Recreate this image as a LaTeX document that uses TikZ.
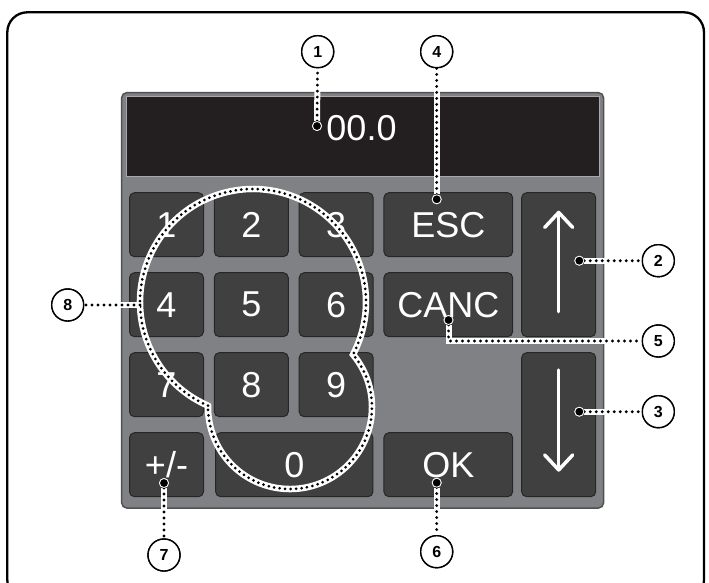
\documentclass[tikz,border=0pt]{standalone}
\usepackage{fontspec}
\setmainfont{Liberation Sans}
\usetikzlibrary{arrows.meta}
\definecolor{panelgray}{RGB}{128,129,132}
\definecolor{paneledge}{RGB}{80,81,83}
\definecolor{keygray}{RGB}{64,64,64}
\definecolor{keyedge}{RGB}{38,38,38}
\definecolor{screen}{RGB}{35,31,32}
\definecolor{screenedge}{RGB}{167,169,172}
\newcommand\keysize{\fontsize{36}{40}\selectfont}
\newcommand\callsize{\bfseries\fontsize{16}{18}\selectfont}

\begin{document}
\begin{tikzpicture}[x=1pt,y=-1pt,
  key/.style={rectangle, rounded corners=5pt, fill=keygray, draw=keyedge,
    line width=1pt, text=white, font=\keysize, inner sep=0pt,
    minimum width=74pt, minimum height=64pt},
  callout/.style={circle, draw=black, fill=white, line width=1.4pt,
    minimum size=32pt, inner sep=0pt, font=\callsize},
  enddot/.style={circle, fill=black, draw=white, line width=0.8pt,
    minimum size=9pt, inner sep=0pt},
  halo/.style={white, line width=6pt},
  dotline/.style={black, line width=3.2pt, line cap=round, dash pattern=on 0pt off 6pt},
  arrowkey/.style={white, line width=3.5pt, line cap=round,
    -{Straight Barb[length=15pt, width=28pt, round]}}]

\useasboundingbox (0,0) rectangle (709,583);
\clip (0,0) rectangle (709,583);

% outer frame
\draw[line width=2.3pt, rounded corners=20pt] (7.3,12.3) rectangle (704,600);

% panel and display
\draw[fill=panelgray, draw=paneledge, line width=1.5pt, rounded corners=5pt] (121.7,92.7) rectangle (603.5,508);
\draw[fill=screen, draw=screenedge, line width=1pt] (126.5,96.5) rectangle (599.5,176.5);
\node[text=white, font=\keysize, inner sep=0pt] (value) at (361.5,128.3) {00.0};

% keys
\node[key] (k1) at (166.5,224.7) {1};
\node[key] (k2) at (251.3,224.7) {2};
\node[key] (k3) at (336.2,224.7) {3};
\node[key] (k4) at (166.5,304.7) {4};
\node[key] (k5) at (251.3,304.7) {5};
\node[key] (k6) at (336.2,304.7) {6};
\node[key] (k7) at (166.5,384.7) {7};
\node[key] (k8) at (251.3,384.7) {8};
\node[key] (k9) at (336.2,384.7) {9};
\node[key] (kpm) at (166.5,464.7) {+/-};
\node[key, minimum width=157.3pt] (k0) at (294.3,464.7) {0};
\node[key, minimum width=128.7pt] (kesc) at (448.3,224.7) {ESC};
\node[key, minimum width=128.7pt] (kcanc) at (448.3,304.7) {CANC};
\node[key, minimum width=128.7pt] (kok) at (448.3,464.7) {OK};
\node[key, minimum height=144pt] (kup) at (558.7,264.7) {};
\node[key, minimum height=144pt] (kdown) at (558.7,424.7) {};

\draw[arrowkey] (558.7,311.7) -- (558.7,210.7);
\draw[arrowkey] (558.7,370) -- (558.7,471.7);

% numeric group outline
\coordinate (cusp) at (208,405.65);
\path[draw=white, line width=6.5pt] (cusp) arc[start angle=113.47, end angle=387.72, radius=113]
  arc[start angle=-39.78, end angle=180.94, radius=82] -- cycle;
\path[draw=black, line width=3pt, line cap=round, dash pattern=on 0pt off 5.5pt] (cusp) arc[start angle=113.47, end angle=387.72, radius=113]
  arc[start angle=-39.78, end angle=180.94, radius=82] -- cycle;

% callouts
\node[callout] (l1) at (317.7,51.7) {1};
\node[callout] (l4) at (436.7,51.7) {4};
\node[callout] (l2) at (658.3,260.7) {2};
\node[callout] (l5) at (658.3,341) {5};
\node[callout] (l3) at (658.3,411.7) {3};
\node[callout] (l6) at (436.7,551.7) {6};
\node[callout] (l7) at (164,555) {7};
\node[callout] (l8) at (67.7,305) {8};

\coordinate (e8) at (140,305);
\node[enddot] (e1) at (317,126) {};
\node[enddot] (e4) at (436.7,199.3) {};
\node[enddot] (e2) at (579.3,260.7) {};
\node[enddot] (e5) at (448.5,320) {};
\node[enddot] (e3) at (579.3,411.7) {};
\node[enddot] (e6) at (436.7,482.7) {};
\node[enddot] (e7) at (164,483) {};

\foreach \a/\b in {e1/l1, e4/l4, e2/l2, e3/l3, e6/l6, e7/l7, e8/l8} {
  \draw[halo] (\a) -- (\b);
  \draw[dotline] (\a) -- (\b);
}
\draw[halo] (e5) |- (l5);
\draw[dotline] (e5) |- (l5);

% redraw callouts and dots on top
\foreach \n in {1,...,8} {
  \node[callout] at (l\n) {\n};
}
\foreach \n in {1,...,7} {
  \node[enddot] at (e\n) {};
}

\end{tikzpicture}
\end{document}
